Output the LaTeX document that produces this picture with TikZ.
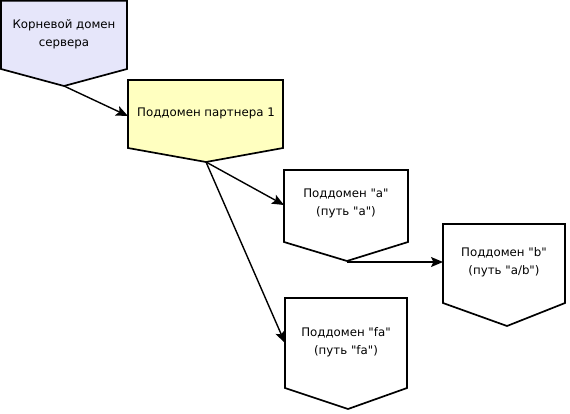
\documentclass[tikz,border=0pt]{standalone}
\usepackage{fontspec}
\setmainfont{DejaVu Sans}[Ligatures=TeXOff]
\usetikzlibrary{arrows.meta}
\definecolor{rootfill}{RGB}{230,230,250}
\definecolor{partfill}{RGB}{255,255,192}
\begin{document}
\begin{tikzpicture}[x=1pt,y=-1pt,
  shapeline/.style={draw=black,line width=1.7pt,line join=miter},
  lbl/.style={align=center,font=\fontsize{11.8}{18}\selectfont,inner sep=0pt},
  conn/.style={draw=black,line width=1.4pt,-{Stealth[length=12pt,width=10pt,inset=2.5pt]}}]
\useasboundingbox (0,0) rectangle (570,413);
% shape 1
\path[shapeline,fill=rootfill] (1,0.8) -- (127,0.8) -- (127,69) -- (64,86) -- (1,69) -- cycle;
\coordinate (t1) at (64,86);
\node[lbl] (n1) at (64,34) {Корневой домен\\сервера};
% shape 2
\path[shapeline,fill=partfill] (128,80) -- (283,80) -- (283,148) -- (206,162) -- (128,148) -- cycle;
\coordinate (t2) at (206,162);
\coordinate (l2) at (128,116);
\node[lbl] (n2) at (206,113) {Поддомен партнера 1};
% shape 3
\path[shapeline,fill=white] (284,170) -- (408,170) -- (408,242) -- (347,261) -- (284,242) -- cycle;
\coordinate (t3) at (347,262);
\coordinate (l3) at (284,205);
\node[lbl] (n3) at (346,203) {Поддомен "a"\\(путь "a")};
% shape 4
\path[shapeline,fill=white] (443,224) -- (565,224) -- (565,303) -- (507,326) -- (443,303) -- cycle;
\coordinate (l4) at (443,262);
\node[lbl] (n4) at (504,262) {Поддомен "b"\\(путь "a/b")};
% shape 5
\path[shapeline,fill=white] (285,298) -- (407,298) -- (407,388) -- (348,409) -- (285,388) -- cycle;
\coordinate (l5) at (285,343);
\node[lbl] (n5) at (346,342) {Поддомен "fa"\\(путь "fa")};
% connectors
\path[conn] (t1) -- (l2);
\path[conn] (t2) -- (l3);
\path[conn] (t2) -- (l5);
\path[conn] (t3) -- (l4);
\end{tikzpicture}
\end{document}
